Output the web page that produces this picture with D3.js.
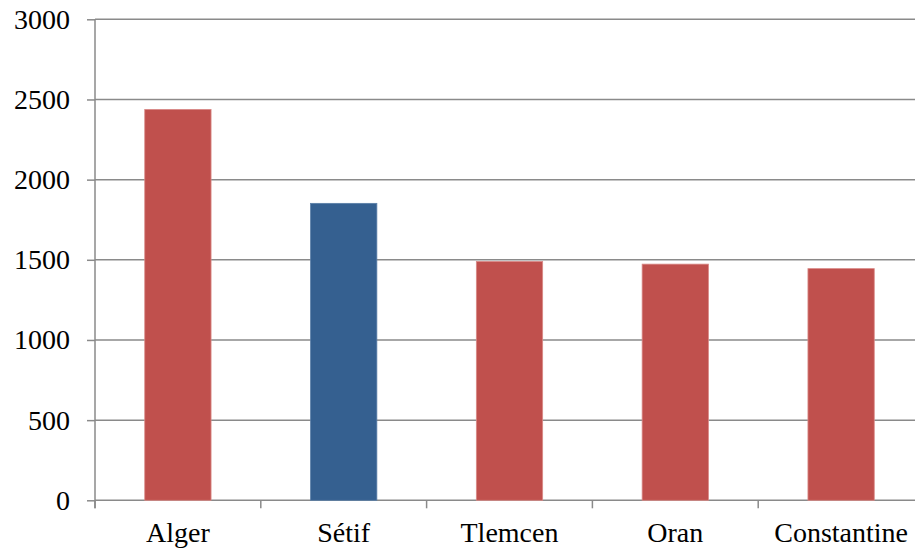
<!DOCTYPE html>
<html>
<head>
<meta charset="utf-8">
<script src="https://cdn.jsdelivr.net/npm/d3@7"></script>
<style>
  html, body { margin: 0; padding: 0; background: #fff; }
  svg { display: block; }
  text { font-family: "Liberation Serif", "DejaVu Serif", serif; fill: #000; }
</style>
</head>
<body>
<svg id="chart" width="915" height="552"></svg>
<script>
// Cities and their values
const categories = ["Alger", "Sétif", "Tlemcen", "Oran", "Constantine"];
const values = [2438, 1852, 1490, 1473, 1445];
const highlighted = ["Sétif"];
const yTicks = [0, 500, 1000, 1500, 2000, 2500, 3000];

const svg = d3.select("#chart");
const plotLeft = 95, plotTop = 19.3, plotBottom = 500.3, plotRight = 924;

const x = d3.scaleBand().domain(categories).range([plotLeft, plotRight])
  .paddingInner(0.6).paddingOuter(0.3);
const y = d3.scaleLinear().domain([0, 3000]).range([plotBottom, plotTop]);

const gridColor = "#8a8a8a";
const fontSize = 28;

// Value axis: small ticks left of the axis, labels right-aligned
const yAxis = d3.axisLeft(y).tickValues(yTicks).tickFormat(d3.format("d"))
  .tickSize(8).tickPadding(17);
const gy = svg.append("g").attr("transform", `translate(${plotLeft},0)`).call(yAxis);
gy.select(".domain").remove();
gy.selectAll(".tick line").attr("stroke", gridColor).attr("stroke-width", 1.5);
gy.selectAll(".tick text").attr("font-size", fontSize)
  .attr("font-family", "Liberation Serif").attr("fill", "#000");

// Horizontal gridlines
svg.append("g").selectAll("line").data(yTicks).join("line")
  .attr("x1", plotLeft).attr("x2", 915)
  .attr("y1", d => y(d)).attr("y2", d => y(d))
  .attr("stroke", gridColor).attr("stroke-width", 1.5);

// Bars
svg.append("g").selectAll("rect").data(categories).join("rect")
  .attr("x", d => x(d))
  .attr("width", x.bandwidth())
  .attr("y", (d, i) => y(values[i]))
  .attr("height", (d, i) => y(0) - y(values[i]))
  .attr("fill", d => highlighted.includes(d) ? "#356090" : "#C0504D")
  .attr("stroke", d => highlighted.includes(d) ? "#5b7fa8" : "#d98a88")
  .attr("stroke-width", 0.8);

// Vertical axis line
svg.append("line")
  .attr("x1", plotLeft).attr("x2", plotLeft)
  .attr("y1", plotTop).attr("y2", plotBottom + 8)
  .attr("stroke", gridColor).attr("stroke-width", 1.5);

// Category axis: ticks on the band boundaries
const step = x.step();
const boundaries = d3.range(categories.length + 1).map(i => plotLeft + i * step);
svg.append("g").selectAll("line").data(boundaries).join("line")
  .attr("x1", d => d).attr("x2", d => d)
  .attr("y1", plotBottom).attr("y2", plotBottom + 8)
  .attr("stroke", gridColor).attr("stroke-width", 1.5);

svg.append("g").selectAll("text").data(categories).join("text")
  .attr("x", d => x(d) + x.bandwidth() / 2)
  .attr("y", 542)
  .attr("text-anchor", "middle")
  .attr("font-size", fontSize)
  .text(d => d);
</script>
</body>
</html>
